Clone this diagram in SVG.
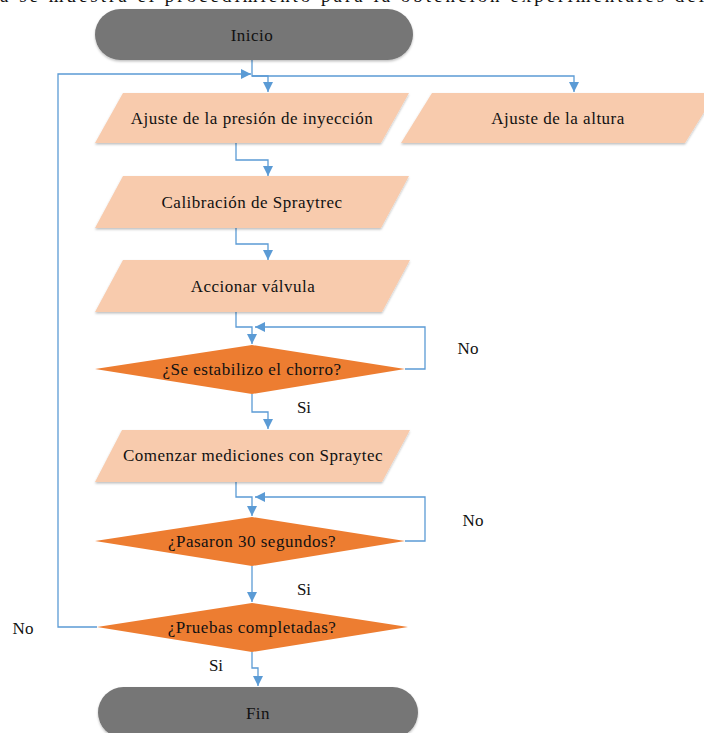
<svg xmlns="http://www.w3.org/2000/svg" width="704" height="733" viewBox="0 0 704 733">
<style>
.pill{fill:#767676;}
.io{fill:#F8CBAD;}
.dec{fill:#ED7D31;}
.t{font-family:"Liberation Serif","Times New Roman",serif;font-size:17px;letter-spacing:0.5px;fill:#111;text-anchor:middle;dominant-baseline:central;}
.lbl{font-family:"Liberation Serif","Times New Roman",serif;font-size:17px;fill:#111;text-anchor:middle;dominant-baseline:central;}
.c{fill:none;stroke:#5B9BD5;stroke-width:1.3;marker-end:url(#ah);}
</style>
<defs>
<marker id="ah" markerUnits="userSpaceOnUse" markerWidth="10" markerHeight="10" viewBox="0 0 10 10" refX="10" refY="5" orient="auto">
<path d="M0,0 L10,5 L0,10 z" fill="#5B9BD5"/>
</marker>
<filter id="sh" x="-5%" y="-10%" width="110%" height="130%">
<feDropShadow dx="0" dy="1.5" stdDeviation="1.2" flood-color="#000" flood-opacity="0.25"/>
</filter>
</defs>
<rect width="704" height="733" fill="#fff"/>
<text x="0" y="2" font-family="Liberation Serif, serif" font-size="19" fill="#111" textLength="704" lengthAdjust="spacing">a se muestra el procedimiento para la obtención experimentales del</text>
<g id="connectors">
<path class="c" d="M252,60 V76 H268 V92"/>
<path class="c" d="M252,76 H574 V92"/>
<path class="c" d="M236,143 V160 H268 V176"/>
<path class="c" d="M236,228 V244 H268 V260"/>
<path class="c" d="M236,312 V327 H252 V344"/>
<path class="c" d="M405,369 H425 V327 H255"/>
<path class="c" d="M252,394 V412 H268 V429"/>
<path class="c" d="M236,482 V497 H252 V516"/>
<path class="c" d="M405,541 H425 V497 H255"/>
<path class="c" d="M252,566 V602"/>
<path class="c" d="M97,627 H58 V74 H251"/>
<path class="c" d="M252,652 V668 H258 V686"/>
</g>
<g id="inicio">
<rect class="pill" x="95" y="9" width="318" height="51" rx="25.5" filter="url(#sh)"/>
<text class="t" x="252" y="35">Inicio</text>
</g>
<g id="ajuste-presion">
<polygon class="io" points="123,93 409,93 381,143 95,143" filter="url(#sh)"/>
<text class="t" x="252" y="118">Ajuste de la presión de inyección</text>
</g>
<g id="ajuste-altura">
<polygon class="io" points="432,93 716,93 685,143 401,143" filter="url(#sh)"/>
<text class="t" x="558" y="118">Ajuste de la altura</text>
</g>
<g id="calibracion">
<polygon class="io" points="123,176 409,176 381,228 95,228" filter="url(#sh)"/>
<text class="t" x="252" y="202">Calibración de Spraytrec</text>
</g>
<g id="accionar">
<polygon class="io" points="123,260 410,260 382,312 95,312" filter="url(#sh)"/>
<text class="t" x="253" y="286">Accionar válvula</text>
</g>
<g id="estabilizo">
<polygon class="dec" points="252,345 405,369 252,394 95,369"/>
<text class="t" x="252" y="369">¿Se estabilizo el chorro?</text>
</g>
<g id="comenzar">
<polygon class="io" points="122,430 410,430 382,482 95,482" filter="url(#sh)"/>
<text class="t" x="253" y="455">Comenzar mediciones con Spraytec</text>
</g>
<g id="pasaron">
<polygon class="dec" points="252,517 405,541 252,566 95,541"/>
<text class="t" x="252" y="541">¿Pasaron 30 segundos?</text>
</g>
<g id="pruebas">
<polygon class="dec" points="252,603 408,627 252,652 97,627"/>
<text class="t" x="252" y="627">¿Pruebas completadas?</text>
</g>
<g id="fin">
<rect class="pill" x="98" y="687" width="320" height="51" rx="25.5" filter="url(#sh)"/>
<text class="t" x="258" y="713">Fin</text>
</g>
<g id="labels">
<text class="lbl" x="468" y="348">No</text>
<text class="lbl" x="304" y="407">Si</text>
<text class="lbl" x="473" y="520">No</text>
<text class="lbl" x="304" y="589">Si</text>
<text class="lbl" x="23" y="628">No</text>
<text class="lbl" x="216" y="665">Si</text>
</g>
</svg>
